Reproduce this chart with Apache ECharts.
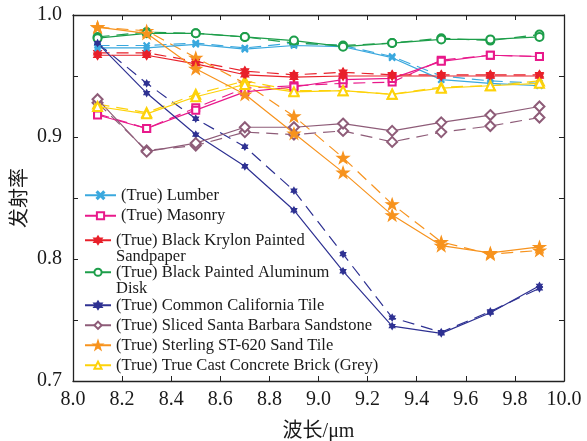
<!DOCTYPE html>
<html>
<head>
<meta charset="utf-8">
<script src="https://cdn.jsdelivr.net/npm/echarts@6/dist/echarts.min.js"></script>
<style>
  html, body { margin: 0; padding: 0; background: #fff; }
  #chart { width: 587px; height: 441px; }
</style>
</head>
<body>
<div id="chart"></div>
<script>
// Wavelength samples (μm)
const wavelengths = [8.1, 8.3, 8.5, 8.7, 8.9, 9.1, 9.3, 9.5, 9.7, 9.9];

// Axis ticks
const xTicks = [8.0, 8.2, 8.4, 8.6, 8.8, 9.0, 9.2, 9.4, 9.6, 9.8, 10.0];
const yTicks = [0.7, 0.8, 0.9, 1.0];

// Material names
const materialNames = [
  'Lumber',
  'Masonry',
  'Black Krylon Painted Sandpaper',
  'Black Painted Aluminum Disk',
  'Common California Tile',
  'Sliced Santa Barbara Sandstone',
  'Sterling ST-620 Sand Tile',
  'True Cast Concrete Brick (Grey)'
];

// True emissivity (solid lines)
const lumberTrue     = [0.973, 0.973, 0.976, 0.972, 0.975, 0.974, 0.965, 0.947, 0.944, 0.942];
const masonryTrue    = [0.918, 0.907, 0.922, 0.937, 0.941, 0.947, 0.948, 0.962, 0.967, 0.966];
const krylonTrue     = [0.967, 0.967, 0.960, 0.951, 0.949, 0.950, 0.950, 0.950, 0.950, 0.950];
const aluminumTrue   = [0.981, 0.985, 0.985, 0.982, 0.979, 0.974, 0.977, 0.980, 0.980, 0.982];
const californiaTrue = [0.977, 0.936, 0.902, 0.876, 0.840, 0.790, 0.745, 0.739, 0.756, 0.778];
const sandstoneTrue  = [0.931, 0.888, 0.895, 0.908, 0.908, 0.911, 0.905, 0.912, 0.918, 0.925];
const sandTileTrue   = [0.990, 0.985, 0.956, 0.935, 0.903, 0.871, 0.836, 0.811, 0.805, 0.810];
const concreteTrue   = [0.925, 0.919, 0.933, 0.943, 0.937, 0.938, 0.935, 0.940, 0.942, 0.944];

// Retrieved emissivity (dashed lines)
const lumberRet      = [0.975, 0.975, 0.977, 0.973, 0.977, 0.975, 0.966, 0.950, 0.946, 0.944];
const masonryRet     = [0.919, 0.907, 0.924, 0.940, 0.942, 0.944, 0.945, 0.963, 0.967, 0.966];
const krylonRet      = [0.969, 0.969, 0.962, 0.954, 0.951, 0.953, 0.951, 0.951, 0.951, 0.951];
const aluminumRet    = [0.982, 0.986, 0.985, 0.982, 0.977, 0.975, 0.977, 0.981, 0.979, 0.984];
const californiaRet  = [0.977, 0.944, 0.915, 0.892, 0.856, 0.804, 0.752, 0.740, 0.757, 0.776];
const sandstoneRet   = [0.928, 0.889, 0.893, 0.904, 0.902, 0.905, 0.896, 0.904, 0.909, 0.916];
const sandTileRet    = [0.990, 0.987, 0.965, 0.944, 0.917, 0.883, 0.845, 0.814, 0.804, 0.807];
const concreteRet    = [0.927, 0.920, 0.935, 0.946, 0.938, 0.938, 0.935, 0.941, 0.942, 0.946];

const trueSets = [lumberTrue, masonryTrue, krylonTrue, aluminumTrue, californiaTrue, sandstoneTrue, sandTileTrue, concreteTrue];
const retSets  = [lumberRet, masonryRet, krylonRet, aluminumRet, californiaRet, sandstoneRet, sandTileRet, concreteRet];

// Marker shapes
const X_MARK  = 'path://M0,1.2L1.2,0L5,3.8L8.8,0L10,1.2L6.2,5L10,8.8L8.8,10L5,6.2L1.2,10L0,8.8L3.8,5Z';
const HEXSTAR = 'path://M50,0L64.5,25L93.3,25L79,50L93.3,75L64.5,75L50,100L35.5,75L6.7,75L21,50L6.7,25L35.5,25Z';
const STAR5   = 'path://M50,0L61.8,35.3L99,35.3L69,57.1L80.4,92.7L50,70.6L19.6,92.7L31,57.1L1,35.3L38.2,35.3Z';

const styles = [
  { color: '#3aa8de', symbol: X_MARK,          size: 6 },
  { color: '#e8198b', symbol: 'emptyRect',     size: 7 },
  { color: '#e8202a', symbol: HEXSTAR,         size: 9 },
  { color: '#1d9e4a', symbol: 'emptyCircle',   size: 8 },
  { color: '#2e3192', symbol: HEXSTAR,         size: 6.5 },
  { color: '#8e5c78', symbol: 'emptyDiamond',  size: 10 },
  { color: '#f7931e', symbol: STAR5,           size: 12 },
  { color: '#fdd20a', symbol: 'emptyTriangle', size: 9 }
];

const SERIF = "'Liberation Serif', 'Noto Sans CJK SC', serif";

function pairs(values) {
  return wavelengths.map((w, i) => [w, values[i]]);
}

function makeSeries(name, values, st, dashed) {
  return {
    name: name,
    type: 'line',
    data: pairs(values),
    symbol: st.symbol,
    symbolSize: st.size,
    symbolKeepAspect: true,
    showAllSymbol: true,
    lineStyle: { color: st.color, width: 1.2, type: dashed ? [12, 7] : 'solid' },
    itemStyle: { color: st.color, borderColor: st.color, borderWidth: 1.1 },
    emphasis: { disabled: true },
    z: dashed ? 2 : 3
  };
}

const series = [];
materialNames.forEach((m, i) => {
  series.push(makeSeries('(Retrieved) ' + m, retSets[i], styles[i], true));
  series.push(makeSeries('(True) ' + m, trueSets[i], styles[i], false));
});

const legendText = { fontFamily: SERIF, fontSize: 16.5, lineHeight: 16, color: '#1a1a1a' };
// Two-line entries: a blank leading line keeps the first line level with the icon
const wrapName = name => ' \n' + name
  .replace('Painted Sandpaper', 'Painted\nSandpaper')
  .replace('Aluminum Disk', 'Aluminum\nDisk');

const legendBase = { orient: 'vertical', left: 84, padding: 0, itemHeight: 9, selectedMode: false };

const option = {
  animation: false,
  backgroundColor: '#fff',
  grid: { left: 73, right: 23, top: 15, bottom: 60, outerBoundsMode: 'none', containLabel: false },
  legend: [
    Object.assign({}, legendBase, {
      data: ['(True) ' + materialNames[0], '(True) ' + materialNames[1]],
      top: 187, itemWidth: 31, itemGap: 4, textStyle: legendText
    }),
    Object.assign({}, legendBase, {
      data: ['(True) ' + materialNames[2]],
      top: 216, itemWidth: 26, itemGap: 0, formatter: wrapName, textStyle: legendText
    }),
    Object.assign({}, legendBase, {
      data: ['(True) ' + materialNames[3]],
      top: 248, itemWidth: 26, itemGap: 0, formatter: wrapName, textStyle: legendText
    }),
    Object.assign({}, legendBase, {
      data: materialNames.slice(4).map(m => '(True) ' + m),
      top: 297, itemWidth: 26, itemGap: 3.5, textStyle: legendText
    })
  ],
  xAxis: [
    {
      type: 'value', min: xTicks[0], max: xTicks[xTicks.length - 1], interval: 0.2,
      name: '波长/μm', nameLocation: 'middle', nameGap: 41,
      nameTextStyle: { fontFamily: SERIF, fontSize: 20, color: '#1a1a1a' },
      axisLine: { lineStyle: { color: '#222', width: 1.3 } },
      axisTick: { inside: true, length: 5, lineStyle: { color: '#222', width: 1 } },
      axisLabel: { fontFamily: SERIF, fontSize: 20, color: '#1a1a1a', margin: 9,
                   formatter: v => v.toFixed(1) },
      splitLine: { show: false }
    },
    {
      type: 'value', position: 'top', min: xTicks[0], max: xTicks[xTicks.length - 1], interval: 0.2,
      axisLine: { onZero: false, lineStyle: { color: '#222', width: 1.3 } },
      axisTick: { inside: true, length: 5, lineStyle: { color: '#222', width: 1 } },
      axisLabel: { show: false }, splitLine: { show: false }
    }
  ],
  yAxis: [
    {
      type: 'value', min: yTicks[0], max: yTicks[yTicks.length - 1], interval: 0.1,
      name: '发射率', nameLocation: 'middle', nameGap: 42, nameMoveOverlap: false,
      nameTextStyle: { fontFamily: SERIF, fontSize: 20, color: '#1a1a1a' },
      axisLine: { show: true, lineStyle: { color: '#222', width: 1.3 } },
      axisTick: { show: true, inside: true, length: 5, lineStyle: { color: '#222', width: 1 } },
      minorTick: { show: true, splitNumber: 2, length: 5, lineStyle: { color: '#222', width: 1 } },
      axisLabel: { fontFamily: SERIF, fontSize: 20, color: '#1a1a1a', margin: 11,
                   formatter: v => v.toFixed(1) },
      splitLine: { show: false }
    },
    {
      type: 'value', position: 'right', min: yTicks[0], max: yTicks[yTicks.length - 1], interval: 0.1,
      axisLine: { show: true, onZero: false, lineStyle: { color: '#222', width: 1.3 } },
      axisTick: { show: true, inside: true, length: 5, lineStyle: { color: '#222', width: 1 } },
      minorTick: { show: true, splitNumber: 2, length: 5, lineStyle: { color: '#222', width: 1 } },
      axisLabel: { show: false }, splitLine: { show: false }
    }
  ],
  series: series
};

const chart = echarts.init(document.getElementById('chart'), null, { renderer: 'canvas' });
chart.setOption(option);
</script>
</body>
</html>
